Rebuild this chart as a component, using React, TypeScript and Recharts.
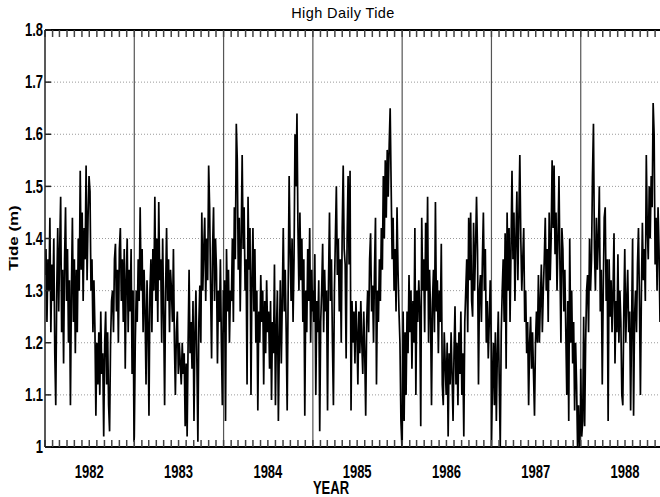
import React from 'react';
import { LineChart, Line, XAxis, YAxis, CartesianGrid, ReferenceLine } from 'recharts';

// Years shown and sampling step (days) of the high daily tide series (values in metres)
const years = [1982, 1983, 1984, 1985, 1986, 1987, 1988];
const stepDays = 4;

const tide1982 = [
  1.33, 1.38, 1.24, 1.36, 1.30, 1.44, 1.22, 1.35, 1.28, 1.40,
  1.18, 1.08, 1.30, 1.42, 1.26, 1.38, 1.48, 1.22, 1.34, 1.16,
  1.36, 1.46, 1.28, 1.38, 1.20, 1.32, 1.08, 1.30, 1.44, 1.24,
  1.36, 1.18, 1.34, 1.22, 1.40, 1.30, 1.53, 1.34, 1.45, 1.28,
  1.42, 1.36, 1.54, 1.32, 1.44, 1.52, 1.49, 1.30, 1.36, 1.22,
  1.32, 1.23, 1.06, 1.20, 1.12, 1.22, 1.10, 1.26, 1.14, 1.18,
  1.02, 1.20, 1.26, 1.12, 1.22, 1.08, 1.03, 1.20, 1.28, 1.30,
  1.22, 1.36, 1.39, 1.26, 1.34, 1.20, 1.38, 1.42, 1.28, 1.36,
  1.24, 1.38, 1.15, 1.32, 1.40, 1.22, 1.34, 1.26, 1.38, 1.14,
  1.30, 1.01,
];
const tide1983 = [
  1.02, 1.20, 1.30, 1.24, 1.36, 1.28, 1.46, 1.30, 1.38, 1.22,
  1.34, 1.26, 1.12, 1.32, 1.24, 1.06, 1.30, 1.36, 1.22, 1.38,
  1.30, 1.48, 1.28, 1.40, 1.24, 1.47, 1.32, 1.36, 1.20, 1.40,
  1.26, 1.08, 1.30, 1.42, 1.28, 1.36, 1.22, 1.34, 1.30, 1.24,
  1.38, 1.20, 1.10, 1.22, 1.26, 1.14, 1.20, 1.16, 1.12, 1.20,
  1.14, 1.18, 1.04, 1.16, 1.02, 1.20, 1.34, 1.18, 1.24, 1.15,
  1.28, 1.05, 1.22, 1.30, 1.16, 1.01, 1.24, 1.31, 1.20, 1.45,
  1.30, 1.38, 1.44, 1.28, 1.40, 1.32, 1.54, 1.46, 1.30, 1.17,
  1.38, 1.46, 1.28, 1.40, 1.34, 1.16, 1.30, 1.24, 1.36, 1.20,
  1.08, 1.30,
];
const tide1984 = [
  1.22, 1.32, 1.05, 1.38, 1.26, 1.34, 1.20, 1.30, 1.28, 1.40,
  1.24, 1.46, 1.36, 1.62, 1.55, 1.34, 1.44, 1.26, 1.40, 1.56,
  1.38, 1.46, 1.30, 1.36, 1.12, 1.48, 1.34, 1.42, 1.10, 1.32,
  1.42, 1.26, 1.38, 1.20, 1.30, 1.07, 1.26, 1.20, 1.33, 1.24,
  1.30, 1.12, 1.28, 1.18, 1.32, 1.22, 1.26, 1.15, 1.28, 1.09,
  1.24, 1.18, 1.35, 1.08, 1.22, 1.30, 1.05, 1.20, 1.32, 1.16,
  1.28, 1.42, 1.26, 1.34, 1.22, 1.07, 1.30, 1.52, 1.38, 1.28,
  1.40, 1.24, 1.36, 1.60, 1.50, 1.64, 1.42, 1.30, 1.45, 1.32,
  1.40, 1.24, 1.36, 1.06, 1.30, 1.22, 1.38, 1.28, 1.42, 1.20,
  1.34, 1.26,
];
const tide1985 = [
  1.30, 1.24, 1.37, 1.10, 1.28, 1.22, 1.32, 1.03, 1.24, 1.30,
  1.39, 1.22, 1.34, 1.26, 1.30, 1.07, 1.32, 1.45, 1.28, 1.36,
  1.20, 1.08, 1.30, 1.40, 1.50, 1.33, 1.40, 1.26, 1.36, 1.20,
  1.42, 1.54, 1.38, 1.35, 1.17, 1.40, 1.52, 1.35, 1.53, 1.07,
  1.28, 1.20, 1.26, 1.16, 1.28, 1.22, 1.12, 1.26, 1.18, 1.28,
  1.20, 1.14, 1.26, 1.18, 1.06, 1.24, 1.30, 1.22, 1.36, 1.41,
  1.26, 1.31, 1.20, 1.34, 1.44, 1.12, 1.30, 1.24, 1.36, 1.28,
  1.42, 1.34, 1.52, 1.40, 1.55, 1.44, 1.57, 1.48, 1.58, 1.65,
  1.50, 1.36, 1.44, 1.30, 1.38, 1.26, 1.46, 1.34, 1.26, 1.20,
  1.05, 1.00,
];
const tide1986 = [
  1.00, 1.26, 1.05, 1.22, 1.10, 1.26, 1.18, 1.33, 1.22, 1.30,
  1.15, 1.28, 1.20, 1.42, 1.10, 1.30, 1.24, 1.32, 1.26, 1.04,
  1.44, 1.30, 1.36, 1.22, 1.43, 1.30, 1.48, 1.20, 1.34, 1.26,
  1.08, 1.28, 1.34, 1.22, 1.47, 1.26, 1.32, 1.18, 1.30, 1.24,
  1.39, 1.12, 1.08, 1.22, 1.16, 1.10, 1.20, 1.02, 1.18, 1.12,
  1.22, 1.14, 1.05, 1.18, 1.27, 1.12, 1.20, 1.08, 1.22, 1.14,
  1.26, 1.10, 1.18, 1.02, 1.24, 1.30, 1.36, 1.22, 1.44, 1.32,
  1.45, 1.28, 1.25, 1.43, 1.30, 1.38, 1.48, 1.38, 1.12, 1.30,
  1.33, 1.24, 1.36, 1.45, 1.30, 1.38, 1.20, 1.28, 1.17, 1.24,
  1.32, 1.20,
];
const tide1987 = [
  1.00, 1.12, 1.20, 1.08, 1.22, 1.05, 1.18, 1.26, 1.12, 1.00,
  1.22, 1.30, 1.36, 1.24, 1.41, 1.15, 1.45, 1.30, 1.42, 1.24,
  1.38, 1.53, 1.36, 1.45, 1.28, 1.40, 1.49, 1.32, 1.44, 1.56,
  1.40, 1.30, 1.36, 1.42, 1.24, 1.30, 1.18, 1.24, 1.08, 1.20,
  1.25, 1.15, 1.22, 1.14, 1.06, 1.20, 1.26, 1.20, 1.33, 1.20,
  1.28, 1.35, 1.22, 1.30, 1.36, 1.44, 1.30, 1.38, 1.24, 1.45,
  1.32, 1.40, 1.55, 1.42, 1.54, 1.37, 1.45, 1.30, 1.40, 1.52,
  1.35, 1.20, 1.42, 1.38, 1.26, 1.34, 1.22, 1.10, 1.28, 1.05,
  1.40, 1.20, 1.30, 1.16, 1.24, 1.07, 1.20, 1.12, 1.00, 1.08,
  1.00, 1.06,
];
const tide1988 = [
  1.15, 1.02, 1.05, 1.25, 1.04, 1.20, 1.30, 1.33, 1.22, 1.40,
  1.30, 1.36, 1.52, 1.62, 1.38, 1.30, 1.44, 1.34, 1.40, 1.50,
  1.26, 1.34, 1.12, 1.30, 1.44, 1.46, 1.28, 1.36, 1.05, 1.36,
  1.25, 1.32, 1.22, 1.30, 1.41, 1.16, 1.28, 1.22, 1.37, 1.20,
  1.30, 1.24, 1.10, 1.08, 1.26, 1.38, 1.20, 1.28, 1.34, 1.22,
  1.26, 1.07, 1.24, 1.40, 1.06, 1.25, 1.30, 1.22, 1.35, 1.42,
  1.28, 1.10, 1.30, 1.43, 1.32, 1.38, 1.28, 1.56, 1.42, 1.36,
  1.50, 1.40, 1.52, 1.46, 1.66, 1.60, 1.35, 1.44, 1.30, 1.46,
  1.38, 1.24,
];

const tideByYear = [tide1982, tide1983, tide1984, tide1985, tide1986, tide1987, tide1988];

const yTicks = [1, 1.1, 1.2, 1.3, 1.4, 1.5, 1.6, 1.7, 1.8];
const monthStartDays = [0, 31, 59, 90, 120, 151, 181, 212, 243, 273, 304, 334];
const labelDay = 181; // year label sits at mid-year
const yearLines = [1983, 1984, 1985, 1986, 1987, 1988];

const data = tideByYear.flatMap((arr, k) =>
  arr.map((v, i) => ({ t: years[k] + (i * stepDays) / 365, v }))
);
const tMin = data[0].t;
const tMax = data[data.length - 1].t;
const monthTicks = years
  .flatMap((y) => monthStartDays.map((d) => y + d / 365))
  .filter((t) => t <= tMax + 1e-9);

const FONT = '"Liberation Sans", Arial, Helvetica, sans-serif';

const yearLabel = (v: number) => {
  const y = Math.floor(v + 1e-9);
  const frac = v - y;
  return Math.abs(frac - labelDay / 365) < 1e-6 ? String(y) : '';
};

const EmptyTick = () => <g />;

const YearTick = (props: any) => {
  const { x, y, payload } = props;
  const label = yearLabel(payload.value);
  if (!label) return <g />;
  return (
    <g transform={`translate(${x},${y}) scale(1,1.35)`}>
      <text textAnchor="middle" dy="0.71em" fontSize={13} fontWeight="bold" fill="#000" fontFamily={FONT}>
        {label}
      </text>
    </g>
  );
};

const TideTick = (props: any) => {
  const { x, y, payload } = props;
  return (
    <g transform={`translate(${x},${y}) scale(1,1.35)`}>
      <text textAnchor="end" dy="0.355em" fontSize={13} fontWeight="bold" fill="#000" fontFamily={FONT}>
        {String(payload.value)}
      </text>
    </g>
  );
};

export default function App() {
  return (
    <div style={{ position: 'absolute', left: 0, top: 0, width: 660, height: 497, background: '#fff' }}>
      <LineChart width={660} height={497} data={data} margin={{ top: 0, right: 0, bottom: 20, left: 0 }}>
        <CartesianGrid horizontal vertical={false} stroke="#9a9a9a" strokeDasharray="1 2" />
        <XAxis
          xAxisId="top"
          orientation="top"
          type="number"
          dataKey="t"
          domain={[tMin, tMax]}
          allowDataOverflow
          ticks={monthTicks}
          interval={0}
          tick={<EmptyTick />}
          tickSize={-7}
          height={30}
          axisLine={{ stroke: '#000', strokeWidth: 2 }}
          tickLine={{ stroke: '#444', strokeWidth: 1.5 }}
        />
        <XAxis
          type="number"
          dataKey="t"
          domain={[tMin, tMax]}
          allowDataOverflow
          ticks={monthTicks}
          interval={0}
          tick={<YearTick />}
          tickSize={-7}
          tickMargin={26}
          height={30}
          axisLine={{ stroke: '#000', strokeWidth: 2 }}
          tickLine={{ stroke: '#444', strokeWidth: 1.5 }}
        />
        <YAxis
          type="number"
          domain={[1, 1.8]}
          allowDataOverflow
          ticks={yTicks}
          interval={0}
          width={45}
          tickSize={-6}
          tickMargin={8}
          tick={<TideTick />}
          axisLine={{ stroke: '#222', strokeWidth: 1.5 }}
          tickLine={{ stroke: '#222', strokeWidth: 1.5 }}
        />
        {yearLines.map((y) => (
          <ReferenceLine key={y} x={y} stroke="#555" strokeWidth={1.2} />
        ))}
        <Line
          type="linear"
          dataKey="v"
          stroke="#000"
          strokeWidth={1.7}
          dot={false}
          isAnimationActive={false}
        />
      </LineChart>
      <svg width={660} height={497} style={{ position: 'absolute', left: 0, top: 0, pointerEvents: 'none' }}>
        <text x={343} y={18} textAnchor="middle" fontSize={14.5} letterSpacing={0.4} fontFamily={FONT} fill="#000">
          High Daily Tide
        </text>
        <g transform="translate(331,494) scale(1,1.35)">
          <text textAnchor="middle" fontSize={13} fontWeight="bold" fontFamily={FONT} fill="#000">
            YEAR
          </text>
        </g>
        <g transform="translate(18,238) rotate(-90) scale(1.3,1)">
          <text textAnchor="middle" fontSize={13} fontWeight="bold" fontFamily={FONT} fill="#000">
            Tide (m)
          </text>
        </g>
      </svg>
    </div>
  );
}
